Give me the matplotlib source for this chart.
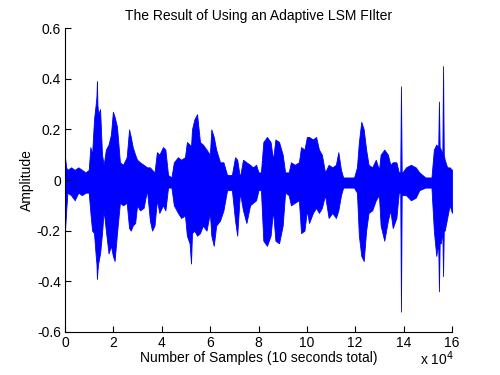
import matplotlib
matplotlib.use("Agg")
import matplotlib.pyplot as plt
import numpy as np

# Envelope of the filtered signal (x in units of 1e4 samples)
sample_x = [0.00, 0.05, 0.10, 0.25, 0.40, 0.55, 0.70, 0.85, 0.98, 1.05, 1.12, 1.20, 1.27, 1.30, 1.32, 1.34, 1.37,
            1.45, 1.53, 1.60, 1.69, 1.80, 1.90, 1.98, 2.05, 2.15, 2.27, 2.40, 2.55, 2.65, 2.72, 2.80,
            2.90, 2.98, 3.10, 3.25, 3.39, 3.51, 3.60, 3.70, 3.80, 3.90, 4.05, 4.15, 4.26, 4.40, 4.50,
            4.67, 4.80, 4.96, 5.04, 5.15, 5.21, 5.25, 5.35, 5.46, 5.58, 5.70, 5.85, 5.99, 6.05, 6.15,
            6.25, 6.41, 6.55, 6.70, 6.90, 7.03, 7.12, 7.23, 7.36, 7.50, 7.65, 7.77, 7.90, 8.00, 8.10,
            8.20, 8.35, 8.50, 8.60, 8.70, 8.85, 9.00, 9.10, 9.25, 9.34, 9.50, 9.67, 9.76, 9.90, 10.00,
            10.09, 10.25, 10.38, 10.50, 10.62, 10.75, 10.90, 11.05, 11.20, 11.30, 11.41, 11.50, 11.95,
            12.07, 12.15, 12.25, 12.35, 12.45, 12.55, 12.70, 12.85, 12.98, 13.05, 13.20, 13.35, 13.45,
            13.55, 13.70, 13.80, 13.86, 13.89, 13.92, 13.95, 14.10, 14.30, 14.50, 14.65, 14.90, 15.15,
            15.25, 15.35, 15.43, 15.46, 15.49, 15.54, 15.60, 15.63, 15.66, 15.70, 15.80, 15.90, 16.00]
upper = [0.09, 0.05, 0.04, 0.05, 0.04, 0.05, 0.04, 0.03, 0.04, 0.13, 0.10, 0.24, 0.30, 0.33, 0.39, 0.30, 0.26,
         0.28, 0.10, 0.06, 0.12, 0.14, 0.18, 0.27, 0.25, 0.21, 0.07, 0.06, 0.09, 0.20, 0.17, 0.13,
         0.10, 0.08, 0.07, 0.06, 0.05, 0.05, 0.04, 0.03, 0.11, 0.10, 0.13, 0.12, 0.02, 0.01, 0.07,
         0.09, 0.08, 0.09, 0.15, 0.14, 0.13, 0.20, 0.24, 0.26, 0.15, 0.14, 0.12, 0.10, 0.20, 0.17,
         0.12, 0.07, 0.07, 0.02, 0.02, 0.09, 0.08, 0.01, 0.08, 0.07, 0.06, 0.05, 0.06, 0.03, 0.03,
         0.15, 0.17, 0.15, 0.08, 0.16, 0.15, 0.10, 0.03, 0.03, 0.07, 0.06, 0.07, 0.13, 0.12, 0.17,
         0.17, 0.16, 0.17, 0.12, 0.10, 0.03, 0.06, 0.05, 0.06, 0.11, 0.04, 0.01, 0.01,
         0.05, 0.15, 0.23, 0.20, 0.12, 0.06, 0.05, 0.08, 0.04, 0.10, 0.12, 0.10, 0.06,
         0.07, 0.07, 0.03, 0.03, 0.37, 0.03, 0.03, 0.05, 0.06, 0.05, 0.03, 0.01, 0.01,
         0.12, 0.14, 0.13, 0.31, 0.13, 0.12, 0.10, 0.45, 0.10, 0.08, 0.05, 0.05, 0.04]
lower = [-0.20, -0.12, -0.05, -0.06, -0.08, -0.05, -0.06, -0.05, -0.05, -0.13, -0.20, -0.21, -0.30, -0.33, -0.39, -0.36, -0.33,
         -0.29, -0.21, -0.12, -0.20, -0.29, -0.26, -0.30, -0.32, -0.21, -0.09, -0.10, -0.09, -0.19, -0.20, -0.18,
         -0.17, -0.10, -0.12, -0.11, -0.04, -0.16, -0.20, -0.18, -0.08, -0.13, -0.10, -0.12, -0.03, -0.03, -0.10,
         -0.13, -0.15, -0.14, -0.22, -0.25, -0.33, -0.21, -0.20, -0.22, -0.21, -0.18, -0.20, -0.13, -0.22, -0.26,
         -0.18, -0.16, -0.12, -0.04, -0.04, -0.16, -0.22, -0.05, -0.12, -0.17, -0.10, -0.09, -0.08, -0.04, -0.04,
         -0.24, -0.26, -0.22, -0.12, -0.24, -0.25, -0.18, -0.05, -0.06, -0.10, -0.09, -0.08, -0.21, -0.20, -0.12,
         -0.17, -0.13, -0.11, -0.13, -0.11, -0.06, -0.15, -0.13, -0.15, -0.12, -0.06, -0.03, -0.03,
         -0.05, -0.22, -0.30, -0.32, -0.20, -0.13, -0.12, -0.08, -0.06, -0.18, -0.24, -0.16, -0.12,
         -0.19, -0.15, -0.05, -0.05, -0.52, -0.06, -0.06, -0.06, -0.08, -0.07, -0.04, -0.03, -0.03,
         -0.20, -0.30, -0.25, -0.44, -0.25, -0.25, -0.20, -0.38, -0.20, -0.20, -0.15, -0.10, -0.13]

x_ticks = [0, 2, 4, 6, 8, 10, 12, 14, 16]
y_ticks = [-0.6, -0.4, -0.2, 0, 0.2, 0.4, 0.6]
y_tick_labels = ["-0.6", "-0.4", "-0.2", "0", "0.2", "0.4", "0.6"]

plt.rcParams['font.family'] = ['Liberation Sans', 'DejaVu Sans']
plt.rcParams['axes.unicode_minus'] = False

fig = plt.figure(figsize=(5, 3.75), dpi=100)
fig.patch.set_facecolor('white')
ax = fig.add_axes([0.13, 0.115, 0.774, 0.81])

xs = np.array(sample_x)
ax.fill_between(xs, lower, upper, color=(0, 0, 1), linewidth=0.6, edgecolor=(0, 0, 1))

ax.set_xlim(0, 16)
ax.set_ylim(-0.6, 0.6)
ax.set_xticks(x_ticks)
ax.set_xticklabels([str(t) for t in x_ticks])
ax.set_yticks(y_ticks)
ax.set_yticklabels(y_tick_labels)
ax.tick_params(direction='in', length=4, width=0.8, labelsize=10, pad=3)
ax.spines['top'].set_visible(False)
ax.spines['right'].set_visible(False)
for s in ('left', 'bottom'):
    ax.spines[s].set_linewidth(0.8)

ax.set_title("The Result of Using an Adaptive LSM FIlter", fontsize=10, pad=6)
ax.set_xlabel("Number of Samples (10 seconds total)", fontsize=10, labelpad=1)
ax.set_ylabel("Amplitude", fontsize=10, labelpad=2)
fig.text(0.84, 0.02, "x 10$^{4}$", fontsize=10, ha='left', va='bottom')

fig.savefig("out.png", dpi=100)
